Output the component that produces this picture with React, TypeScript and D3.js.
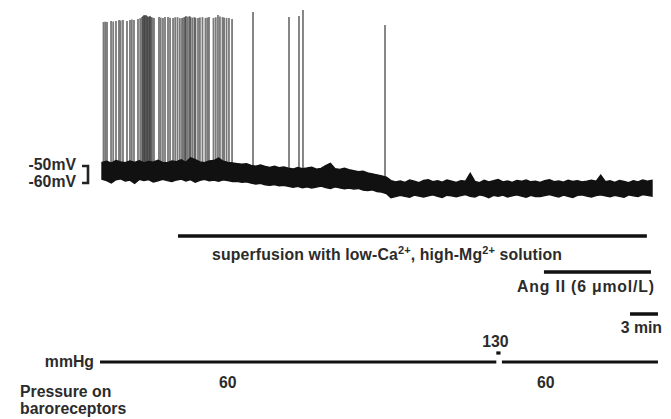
import React, { useEffect, useRef } from "react";
import * as d3 from "d3";

// baseline envelope of the membrane potential trace, every 0.5 min (mV)
const traceMinutes = [
  0, 0.5, 1, 1.5, 2, 2.5, 3, 3.5, 4, 4.5, 5, 5.5, 6, 6.5, 7, 7.5, 8, 8.5, 9, 9.5,
  10, 10.5, 11, 11.5, 12, 12.5, 13, 13.5, 14, 14.5, 15, 15.5, 16, 16.5, 17, 17.5, 18, 18.5, 19, 19.5,
  20, 20.5, 21, 21.5, 22, 22.5, 23, 23.5, 24, 24.5, 25, 25.5, 26, 26.5, 27, 27.5, 28, 28.5, 29, 29.5,
  30, 30.5, 31, 31.5, 32, 32.5, 33, 33.5, 34, 34.5, 35, 35.5, 36, 36.5, 37, 37.5, 38, 38.5, 39, 39.5,
  40, 40.5, 41, 41.5, 42, 42.5, 43, 43.5, 44, 44.5, 45, 45.5, 46, 46.5, 47, 47.5, 48, 48.5, 49, 49.5,
  50, 50.5, 51, 51.5, 52, 52.5, 53, 53.5, 54, 54.5, 55, 55.5, 56, 56.5, 57, 57.5, 58, 58.5, 59,
];
const traceUpper = [
  -47.9, -47.2, -48.3, -46.8, -47.6, -48.1, -47.0, -47.9, -46.9, -48.2, -47.4, -47.8, -46.6, -47.9, -48.0,
  -47.1, -47.5, -46.4, -47.8, -45.2, -46.3, -47.6, -48.1, -47.0, -46.8, -45.4, -47.2, -47.9, -48.2,
  -48.6, -49.0, -48.7, -49.6, -50.1, -49.4, -50.3, -50.8, -50.2, -51.0, -50.6, -51.3,
  -51.8, -50.9, -51.6, -51.2, -50.7, -51.9, -51.4, -49.8, -48.4, -51.6, -52.0, -51.3, -52.2,
  -52.8, -53.4, -53.0, -54.1, -54.6, -55.2, -55.8, -56.5,
  -58.6,
  -59.4, -58.8, -59.6, -58.2, -58.9, -59.8, -58.5, -58.1, -59.2, -58.7, -59.5, -58.3, -59.0, -59.7,
  -58.6, -58.9, -54.3, -59.1, -59.8, -58.4, -59.3, -58.7, -58.0, -59.4, -58.8, -59.6, -58.5, -59.0,
  -58.2, -59.3, -58.9, -59.7, -58.6, -58.1, -59.2, -58.8, -59.5, -58.4, -59.1, -58.6, -59.4, -58.9,
  -58.3, -59.0, -55.4, -59.2, -58.7, -59.6, -58.5, -59.1, -59.8, -58.6, -59.3, -58.2, -58.9, -58.4,
];
const traceLower = [
  -57.8, -58.6, -59.9, -58.1, -57.6, -58.9, -58.3, -60.2, -57.9, -58.5, -58.0, -59.4, -58.7, -57.8, -58.6,
  -59.1, -58.2, -57.7, -58.8, -58.0, -59.6, -58.4, -57.9, -58.7, -58.3, -59.0, -58.1, -58.6, -59.2,
  -59.0, -59.6, -59.3, -60.1, -60.6, -60.2, -61.0, -61.4, -60.9, -61.7, -61.3, -62.0,
  -62.5, -61.9, -62.8, -62.2, -63.0, -62.4, -61.8, -62.7, -63.2, -62.3, -62.9, -63.4, -63.0,
  -63.6, -63.2, -64.1, -64.5, -64.0, -65.0, -65.4, -66.2,
  -68.6,
  -68.0, -67.3, -67.9, -68.4, -67.1, -67.7, -68.2, -67.5, -66.9, -67.8, -68.5, -67.2, -67.6, -68.1,
  -67.4, -66.8, -67.9, -68.3, -67.0, -67.6, -68.6, -67.3, -67.8, -67.1, -68.2, -67.5, -66.9, -67.7,
  -68.4, -67.2, -67.9, -68.0, -67.4, -66.8, -67.6, -68.3, -67.1, -67.8, -68.5, -67.3, -67.0, -67.7,
  -68.2, -67.4, -66.9, -67.6, -68.1, -67.2, -67.8, -68.4, -67.0, -67.5, -67.9, -66.8, -67.3, -67.7,
];

// action potentials: time (min) and peak (mV)
const spikeMinutes = [
  0.16, 0.35, 0.54, 0.97, 1.2, 1.5, 1.82, 2.0, 2.25, 2.68, 3.0, 3.2, 3.43, 3.86, 4.1, 4.29, 4.4, 4.51,
  4.6, 4.72, 4.83, 4.93, 5.05, 5.15, 5.26, 5.4, 5.58, 6.11, 6.3, 6.54, 6.76, 7.08, 7.3, 7.62, 7.85, 8.1,
  8.35, 8.58, 8.75, 8.9, 9.01, 9.2, 9.39, 9.49, 9.7, 9.92, 10.03, 10.3, 10.5, 10.78, 11.1, 11.3, 11.48,
  11.96, 12.2, 12.44, 12.65, 12.93, 13.1, 13.36, 13.62, 13.95, 16.2, 20.06, 21.13, 21.56, 30.36,
];
const spikePeaks = [
  34.7, 34.9, 34.7, 35.3, 35.0, 35.3, 35.9, 35.6, 35.9, 35.3, 35.9, 36.2, 35.9, 36.5, 37.0, 37.6, 38.2, 38.8,
  38.5, 38.8, 38.2, 37.6, 38.0, 38.2, 37.6, 37.4, 37.1, 37.6, 37.3, 37.1, 37.6, 37.6, 37.2, 37.1, 37.5, 37.6,
  37.0, 37.1, 37.4, 37.6, 38.2, 37.8, 38.2, 37.6, 37.3, 37.6, 37.1, 37.1, 37.4, 37.6, 37.1, 37.3, 37.6,
  37.1, 37.5, 38.8, 37.9, 37.6, 37.3, 37.1, 37.1, 36.5, 40.6, 37.6, 38.2, 41.8, 32.9,
];

// protocol bars (min)
const superfusionMinutes = [8.15, 58.45];
const angMinutes = [47.41, 58.89];
const scaleBarMinutes = [56.64, 59.64];

// pressure on baroreceptors (mmHg)
const pressureStart = [-0.21, 42.3, 42.9];
const pressureEnd = [42.3, 42.75, 59.64];
const pressureValues = [60, 130, 60];
const pressureLabelMinutes = [13.5, 42.2, 47.6];
const pressureLabels = ["60", "130", "60"];

const FONT = "'Liberation Sans', Arial, Helvetica, sans-serif";
const TEXT = "#2b2b2b";

const App = () => {
  const svgRef = useRef(null);

  useEffect(() => {
    const svg = d3.select(svgRef.current);
    svg.selectAll("*").remove();

    const x = d3.scaleLinear().domain([0, 59]).range([102, 652]);
    const y = d3.scaleLinear().domain([-60, -50]).range([183, 166]);
    const p = d3.scaleLinear().domain([60, 130]).range([362, 353]);

    const g = svg.append("g");

    // spikes first, the baseline band covers their feet
    g.selectAll(".spike")
      .data(spikeMinutes)
      .join("line")
      .attr("class", "spike")
      .attr("x1", (d) => x(d))
      .attr("x2", (d) => x(d))
      .attr("y1", (d, i) => y(spikePeaks[i]))
      .attr("y2", y(-56))
      .attr("stroke", "#222")
      .attr("stroke-width", 1.8)
      .attr("opacity", 0.6);

    const band = d3
      .area()
      .x((d, i) => x(traceMinutes[i]))
      .y0((d, i) => y(traceLower[i]))
      .y1((d, i) => y(traceUpper[i]));

    g.append("path")
      .attr("d", band(traceMinutes))
      .attr("fill", "#111")
      .attr("stroke", "#111")
      .attr("stroke-width", 1.4)
      .attr("stroke-linejoin", "miter");

    // voltage calibration bracket
    g.append("path")
      .attr("d", `M82,${y(-50)}H88V${y(-60)}H82`)
      .attr("fill", "none")
      .attr("stroke", "#222")
      .attr("stroke-width", 2.6);

    const label = (sel) =>
      sel
        .attr("font-family", FONT)
        .attr("font-weight", "bold")
        .attr("font-size", 15.8)
        .attr("fill", TEXT);

    [-50, -60].forEach((v) => {
      label(g.append("text"))
        .attr("x", 76)
        .attr("y", y(v) + 4)
        .attr("text-anchor", "end")
        .text(`${v}mV`);
    });

    const bar = (range, yPos) =>
      g
        .append("line")
        .attr("x1", x(range[0]))
        .attr("x2", x(range[1]))
        .attr("y1", yPos)
        .attr("y2", yPos)
        .attr("stroke", "#111")
        .attr("stroke-width", 3.5);

    bar(superfusionMinutes, 236);
    const sf = label(g.append("text"))
      .attr("x", 212)
      .attr("y", 260)
      .attr("textLength", 350)
      .attr("lengthAdjust", "spacing");
    sf.append("tspan").text("superfusion with low-Ca");
    sf.append("tspan").attr("dy", -6).attr("font-size", 11).text("2+");
    sf.append("tspan").attr("dy", 6).text(", high-Mg");
    sf.append("tspan").attr("dy", -6).attr("font-size", 11).text("2+");
    sf.append("tspan").attr("dy", 6).text(" solution");

    bar(angMinutes, 272);
    label(g.append("text"))
      .attr("x", 517)
      .attr("y", 292)
      .attr("textLength", 137)
      .attr("lengthAdjust", "spacing")
      .text("Ang II (6 \u03bcmol/L)");

    bar(scaleBarMinutes, 314);
    label(g.append("text"))
      .attr("x", 662)
      .attr("y", 333)
      .attr("text-anchor", "end")
      .text("3 min");

    // pressure trace
    g.selectAll(".pressure")
      .data(pressureValues)
      .join("line")
      .attr("class", "pressure")
      .attr("x1", (d, i) => x(pressureStart[i]))
      .attr("x2", (d, i) => x(pressureEnd[i]))
      .attr("y1", (d) => p(d))
      .attr("y2", (d) => p(d))
      .attr("stroke", "#111")
      .attr("stroke-width", 3.2);

    g.selectAll(".plabel")
      .data(pressureLabels)
      .join("text")
      .attr("class", "plabel")
      .call(label)
      .attr("x", (d, i) => x(pressureLabelMinutes[i]))
      .attr("y", (d, i) => (pressureValues[i] > 60 ? 347 : 388))
      .attr("text-anchor", "middle")
      .text((d) => d);

    label(g.append("text"))
      .attr("x", 94)
      .attr("y", 367)
      .attr("text-anchor", "end")
      .text("mmHg");

    label(g.append("text")).attr("x", 20).attr("y", 397).text("Pressure on");
    label(g.append("text")).attr("x", 20).attr("y", 414).text("baroreceptors");
  }, []);

  return (
    <svg
      ref={svgRef}
      width={671}
      height={419}
      style={{ position: "absolute", left: 0, top: 0, background: "#fff" }}
    ></svg>
  );
};

export default App;
